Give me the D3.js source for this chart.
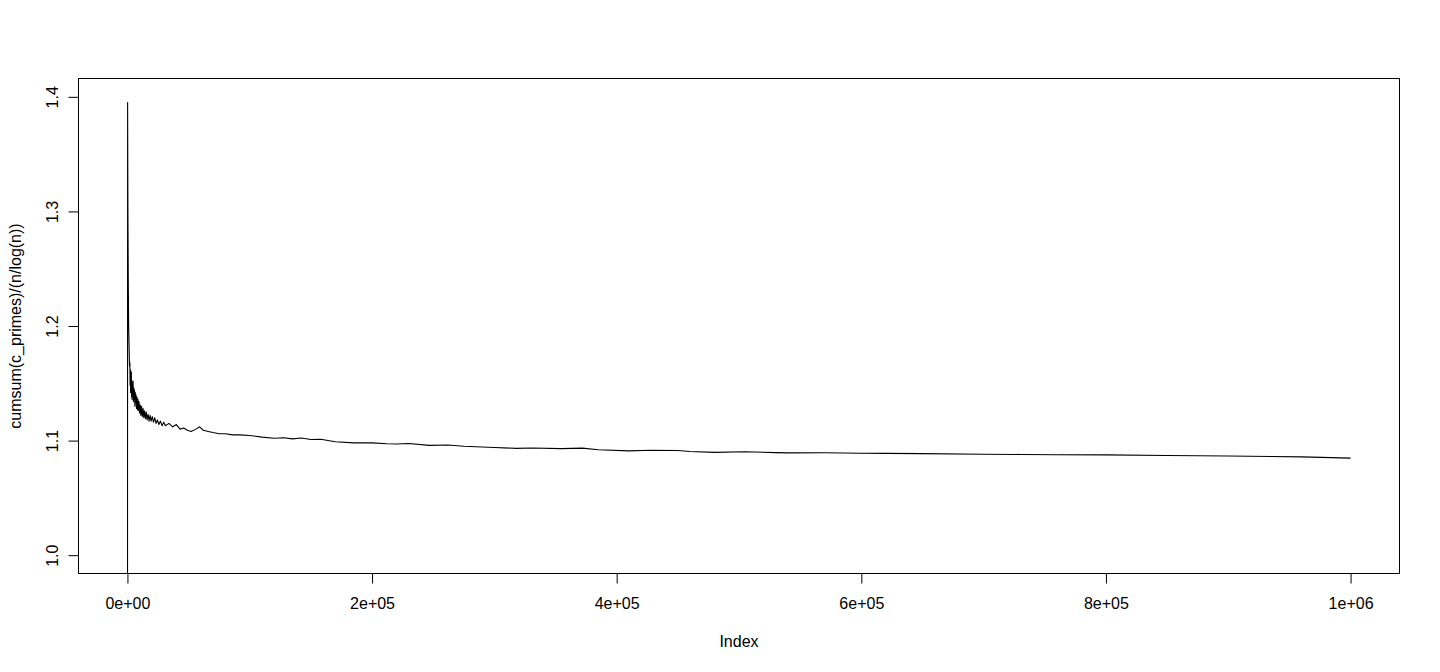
<!DOCTYPE html>
<html>
<head>
<meta charset="utf-8">
<script src="https://cdn.jsdelivr.net/npm/d3@7"></script>
<style>
  html, body { margin: 0; padding: 0; background: #fff; }
  svg { display: block; }
  text { font-family: "Liberation Sans", Arial, Helvetica, sans-serif; font-size: 16px; fill: #000; }
</style>
</head>
<body>
<svg id="chart" width="1440" height="672"></svg>
<script>
// ---- data ----
const indexValues = [
  1, 150, 400, 700, 1000, 1400, 1700,
  2000, 2200, 2400, 2600, 2800, 3000, 3200, 3400, 3600, 3800, 4000, 4300, 4600, 4900,
  5200, 5500, 5800, 6100, 6400, 6700, 7000, 7400, 7800, 8200, 8600, 9000, 9500, 10000,
  10500, 11000, 11600, 12200, 12800, 13400, 14000, 14700, 15400, 16100, 16900, 17700,
  18500, 19400, 20300, 21300, 22300, 23400, 24500, 25700, 27000, 28300, 29700, 31000,
  34000, 37000, 40000, 43000, 46000, 49000, 52000, 56000, 59000,
  62000, 66000, 70000, 75000, 80000, 86000, 92000, 100000, 110000, 120000, 128000, 135000, 142000,
  150000, 158000, 170000, 185000, 200000, 212000, 220000, 230000, 247000, 262000, 275000, 300000,
  318000, 330000, 355000, 372000, 385000, 410000, 428000, 450000, 460000, 480000, 505000, 530000, 540000, 570000, 600000,
  620000, 650000, 700000, 730000, 760000, 800000, 850000, 900000, 960000, 1000000
];
const ratioValues = [
  0.50, 1.395, 1.30, 1.24, 1.20, 1.18, 1.165,
  1.168, 1.148, 1.162, 1.142, 1.158, 1.150, 1.160, 1.138, 1.152, 1.136, 1.150, 1.140, 1.152, 1.134,
  1.146, 1.136, 1.144, 1.130, 1.142, 1.133, 1.140, 1.128, 1.138, 1.127, 1.136, 1.126, 1.134, 1.124,
  1.131, 1.122, 1.130, 1.121, 1.128, 1.120, 1.126, 1.119, 1.125, 1.118, 1.123, 1.117,
  1.122, 1.117, 1.121, 1.116, 1.120, 1.115, 1.118, 1.114, 1.117, 1.113, 1.116, 1.113,
  1.115, 1.112, 1.114, 1.110, 1.111, 1.109, 1.108, 1.110, 1.112,
  1.109, 1.108, 1.107, 1.106, 1.106, 1.105, 1.105, 1.1045, 1.103, 1.102, 1.1025, 1.1015, 1.1022,
  1.101, 1.1012, 1.099, 1.098, 1.098, 1.0972, 1.097, 1.0975, 1.0958, 1.0962, 1.095, 1.094,
  1.0932, 1.0935, 1.093, 1.0934, 1.092, 1.091, 1.0916, 1.0913, 1.0905, 1.0897, 1.0902, 1.0895, 1.0893, 1.0894, 1.089,
  1.0888, 1.0886, 1.0881, 1.0879, 1.0876, 1.0875, 1.087, 1.0866, 1.0858, 1.0847
];
const xTickValues = [0, 200000, 400000, 600000, 800000, 1000000];
const xTickLabels = ["0e+00", "2e+05", "4e+05", "6e+05", "8e+05", "1e+06"];
const yTickValues = [1.0, 1.1, 1.2, 1.3, 1.4];
const yTickLabels = ["1.0", "1.1", "1.2", "1.3", "1.4"];
const xTitle = "Index";
const yTitle = "cumsum(c_primes)/(n/log(n))";

// ---- layout ----
const svg = d3.select("#chart");
const plotL = 78.5, plotR = 1399.5, plotT = 78.5, plotB = 573.5;

const xMin = 1, xMax = 1000000;
const xPad = 0.04 * (xMax - xMin);
const x = d3.scaleLinear().domain([xMin - xPad, xMax + xPad]).range([plotL, plotR]);
const yLo = 1.0, yHi = 1.4;
const yPad = 0.04 * (yHi - yLo);
const y = d3.scaleLinear().domain([yLo - yPad, yHi + yPad]).range([plotB, plotT]);

const data = indexValues.map((d, i) => [d, ratioValues[i]]);

svg.append("defs").append("clipPath").attr("id", "plotclip")
  .append("rect").attr("x", plotL).attr("y", plotT)
  .attr("width", plotR - plotL).attr("height", plotB - plotT);

svg.append("path")
  .datum(data)
  .attr("clip-path", "url(#plotclip)")
  .attr("fill", "none")
  .attr("stroke", "#000")
  .attr("stroke-width", 1.1)
  .attr("stroke-linejoin", "round")
  .attr("d", d3.line().x(d => x(d[0])).y(d => y(d[1])));

// box
svg.append("rect")
  .attr("x", plotL).attr("y", plotT)
  .attr("width", plotR - plotL).attr("height", plotB - plotT)
  .attr("fill", "none").attr("stroke", "#000").attr("stroke-width", 1);

// x axis
const xAxis = d3.axisBottom(x)
  .tickValues(xTickValues)
  .tickFormat((d, i) => xTickLabels[i])
  .tickSize(10).tickSizeOuter(0).tickPadding(0);
const gx = svg.append("g").attr("transform", `translate(0,${plotB})`).call(xAxis);
gx.select(".domain").remove();
gx.append("line")
  .attr("x1", x(xTickValues[0])).attr("x2", x(xTickValues[xTickValues.length - 1]))
  .attr("y1", 0).attr("y2", 0).attr("stroke", "#000");
gx.selectAll(".tick line").attr("stroke", "#000");
gx.selectAll(".tick text")
  .attr("y", 35).attr("dy", 0)
  .style("font-size", "16px").style("font-family", '"Liberation Sans", Arial, sans-serif').attr("fill", "#000");

// y axis
const yAxis = d3.axisLeft(y)
  .tickValues(yTickValues)
  .tickFormat((d, i) => yTickLabels[i])
  .tickSize(10).tickSizeOuter(0).tickPadding(0);
const gy = svg.append("g").attr("transform", `translate(${plotL},0)`).call(yAxis);
gy.select(".domain").remove();
gy.append("line")
  .attr("x1", 0).attr("x2", 0)
  .attr("y1", y(yTickValues[0])).attr("y2", y(yTickValues[yTickValues.length - 1]))
  .attr("stroke", "#000");
gy.selectAll(".tick line").attr("stroke", "#000");
gy.selectAll(".tick text")
  .attr("x", 0).attr("dy", 0).attr("y", -21)
  .attr("transform", "rotate(-90)")
  .attr("text-anchor", "middle")
  .style("font-size", "16px").style("font-family", '"Liberation Sans", Arial, sans-serif').attr("fill", "#000");

// titles
svg.append("text")
  .attr("x", (plotL + plotR) / 2).attr("y", 647)
  .attr("text-anchor", "middle").text(xTitle);
svg.append("text")
  .attr("transform", `translate(21,${(plotT + plotB) / 2}) rotate(-90)`)
  .attr("text-anchor", "middle").text(yTitle);
</script>
</body>
</html>
